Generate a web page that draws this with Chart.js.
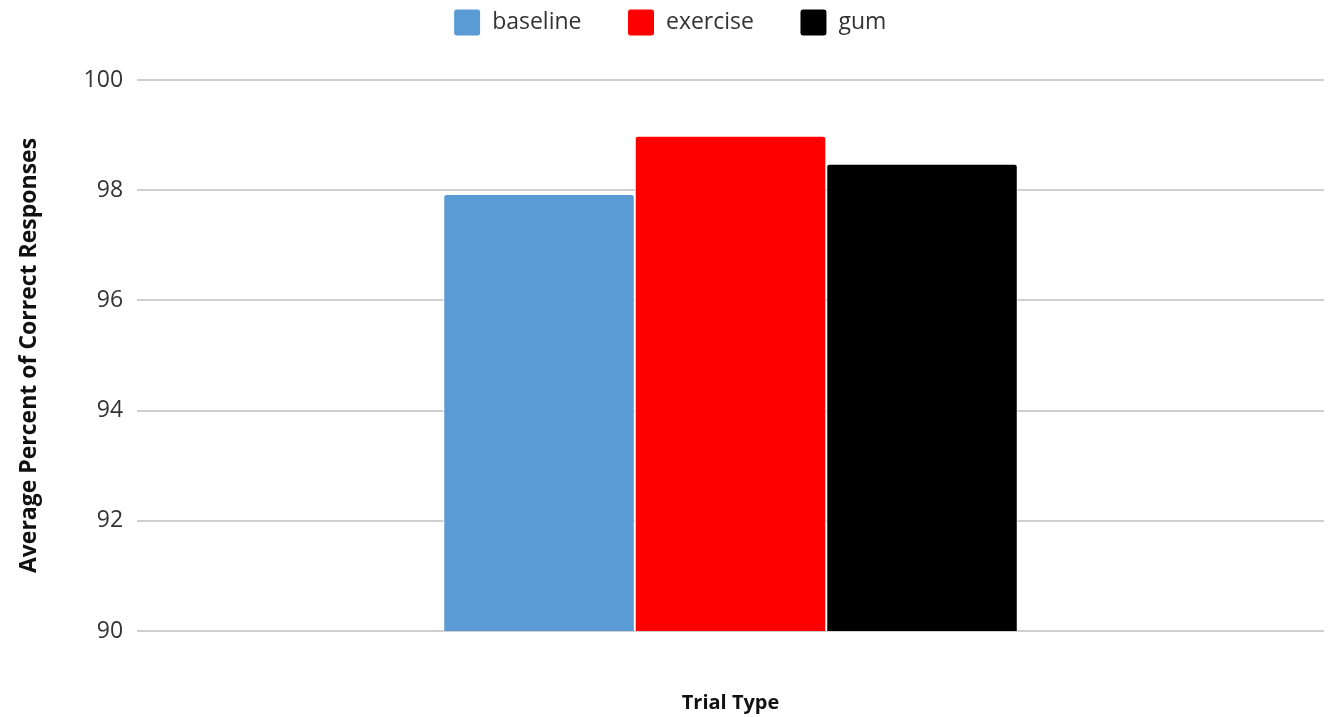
<!DOCTYPE html>
<html>
<head>
<meta charset="utf-8">
<script src="https://cdn.jsdelivr.net/npm/chart.js@4"></script>
<style>
    html, body { margin: 0; padding: 0; background: #fff; }
    #wrap { width: 1337px; height: 717px; }
</style>
</head>
<body>
<div id="wrap"><canvas id="chart" width="1337" height="717"></canvas></div>
<script>
const categories = [''];
const baselineValues = [97.93];
const exerciseValues = [98.99];
const gumValues = [98.48];
const yTicks = [90, 92, 94, 96, 98, 100];

document.addEventListener('DOMContentLoaded', function() {
    const ctx = document.getElementById('chart').getContext('2d');
    Chart.defaults.font.family = '"Open Sans", "Noto Sans", sans-serif';
    Chart.defaults.color = '#333';

    function barSet(label, data, color) {
        return {
            label: label,
            data: data,
            backgroundColor: color,
            borderColor: '#ffffff',
            borderWidth: 1,
            borderRadius: 3,
            borderSkipped: 'bottom',
            barPercentage: 1,
            categoryPercentage: 0.484
        };
    }

    // extra room under the legend
    const legendGap = {
        id: 'legendGap',
        beforeInit(chart) {
            const origFit = chart.legend.fit;
            chart.legend.fit = function() {
                origFit.call(this);
                this.height += 34;
            };
        }
    };

    new Chart(ctx, {
        type: 'bar',
        data: {
            labels: categories,
            datasets: [
                barSet('baseline', baselineValues, '#5b9bd5'),
                barSet('exercise', exerciseValues, '#ff0000'),
                barSet('gum', gumValues, '#000000')
            ]
        },
        options: {
            responsive: false,
            animation: false,
            layout: { padding: { left: 16, right: 13, top: -37, bottom: 2 } },
            plugins: {
                legend: {
                    position: 'top',
                    labels: {
                        boxWidth: 27,
                        boxHeight: 27,
                        useBorderRadius: true,
                        borderRadius: 3,
                        padding: 46,
                        font: { size: 23 },
                        color: '#333'
                    }
                },
                tooltip: { enabled: false }
            },
            scales: {
                x: {
                    grid: { display: false },
                    border: { display: false },
                    ticks: { display: false },
                    title: {
                        display: true,
                        text: 'Trial Type',
                        font: { size: 20, weight: 'bold' },
                        color: '#111',
                        padding: { top: 52, bottom: 0 }
                    }
                },
                y: {
                    min: 90,
                    max: 100,
                    afterBuildTicks: function(axis) {
                        axis.ticks = yTicks.map(v => ({ value: v }));
                    },
                    grid: { color: '#cfcfcf', lineWidth: 2, drawTicks: false },
                    border: { display: false },
                    ticks: { font: { size: 23 }, color: '#333', padding: 14 },
                    title: {
                        display: true,
                        text: 'Average Percent of Correct Responses',
                        font: { size: 23, weight: 'bold' },
                        color: '#111',
                        padding: { top: 0, bottom: 26 }
                    }
                }
            }
        },
        plugins: [legendGap]
    });
});
</script>
</body>
</html>
